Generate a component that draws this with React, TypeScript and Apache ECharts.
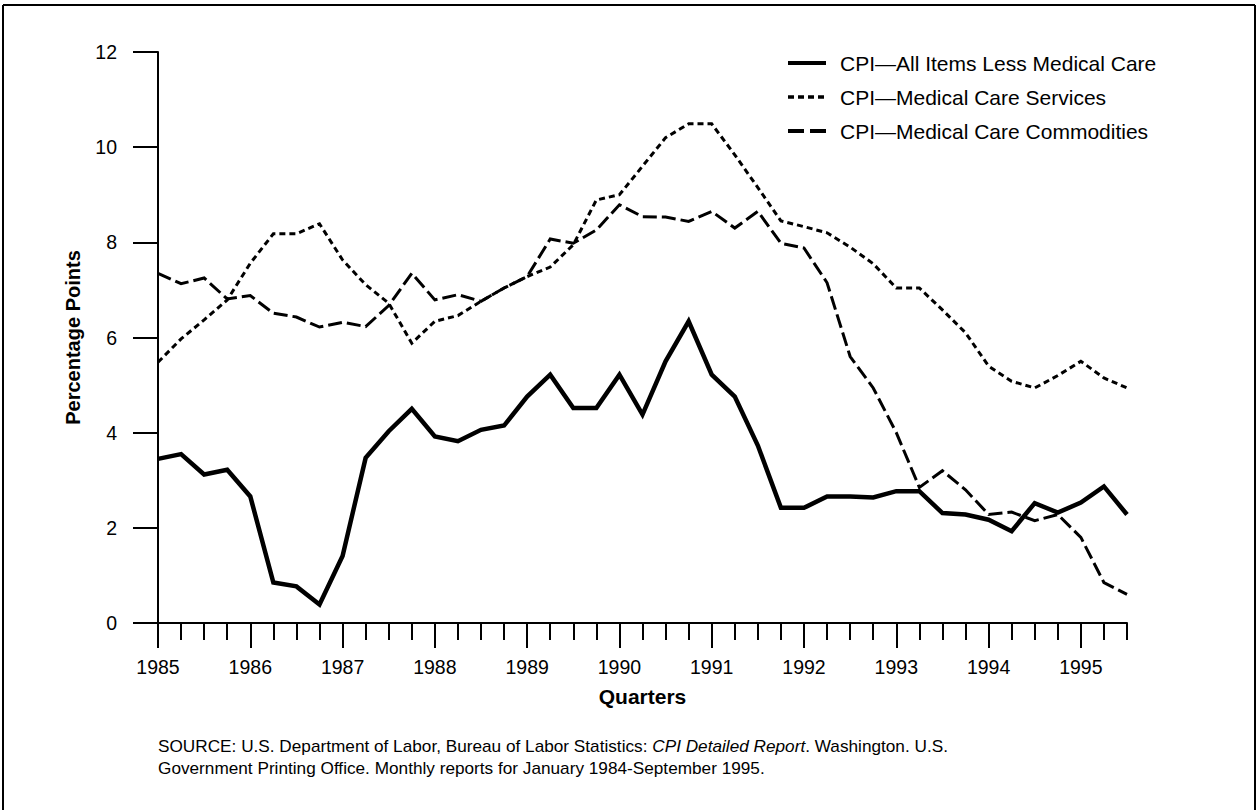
import React, { useEffect, useRef } from "react";
import * as echarts from "echarts";

const quarters = [
  "1985Q1", "1985Q2", "1985Q3", "1985Q4",
  "1986Q1", "1986Q2", "1986Q3", "1986Q4",
  "1987Q1", "1987Q2", "1987Q3", "1987Q4",
  "1988Q1", "1988Q2", "1988Q3", "1988Q4",
  "1989Q1", "1989Q2", "1989Q3", "1989Q4",
  "1990Q1", "1990Q2", "1990Q3", "1990Q4",
  "1991Q1", "1991Q2", "1991Q3", "1991Q4",
  "1992Q1", "1992Q2", "1992Q3", "1992Q4",
  "1993Q1", "1993Q2", "1993Q3", "1993Q4",
  "1994Q1", "1994Q2", "1994Q3", "1994Q4",
  "1995Q1", "1995Q2", "1995Q3",
];

const allItemsLessMedical = [
  3.45, 3.55, 3.12, 3.22, 2.66, 0.85, 0.77, 0.39, 1.41, 3.47,
  4.03, 4.5, 3.92, 3.82, 4.06, 4.15, 4.76, 5.22, 4.52, 4.52,
  5.22, 4.38, 5.5, 6.34, 5.22, 4.76, 3.73, 2.42, 2.42, 2.66,
  2.66, 2.64, 2.77, 2.77, 2.31, 2.28, 2.17, 1.93, 2.52, 2.32,
  2.53, 2.87, 2.28,
];

const medicalServices = [
  5.48, 5.97, 6.37, 6.79, 7.56, 8.18, 8.18, 8.39, 7.63, 7.11,
  6.72, 5.88, 6.34, 6.46, 6.76, 7.04, 7.28, 7.48, 7.95, 8.89,
  9.0, 9.6, 10.2, 10.49, 10.49, 9.84, 9.15, 8.45, 8.33, 8.2,
  7.9, 7.55, 7.04, 7.04, 6.58, 6.1, 5.4, 5.08, 4.94, 5.2,
  5.5, 5.15, 4.94,
];

const medicalCommodities = [
  7.35, 7.13, 7.25, 6.81, 6.88, 6.51, 6.43, 6.22, 6.32, 6.23,
  6.67, 7.35, 6.79, 6.9, 6.76, 7.04, 7.28, 8.07, 7.98, 8.26,
  8.79, 8.54, 8.53, 8.44, 8.65, 8.3, 8.65, 7.98, 7.88, 7.15,
  5.6, 4.94, 4.0, 2.85, 3.2, 2.8, 2.28, 2.33, 2.15, 2.28,
  1.8, 0.85, 0.6,
];

const seriesNames = [
  "CPI\u2014All Items Less Medical Care",
  "CPI\u2014Medical Care Services",
  "CPI\u2014Medical Care Commodities",
];

const FONT = '"Liberation Sans", Arial, Helvetica, sans-serif';

const lineStyles = [
  { width: 4.5, dash: null as number[] | null, legendWidth: 4 },
  { width: 3, dash: [6, 4], legendWidth: 3.5 },
  { width: 3, dash: [14, 5], legendWidth: 4 },
];

export default function App() {
  const ref = useRef<HTMLDivElement>(null);

  useEffect(() => {
    if (!ref.current) return;
    const chart = echarts.init(ref.current, undefined, { renderer: "svg" });
    const isYear = (i: number) => i % 4 === 0;
    const seriesData = [allItemsLessMedical, medicalServices, medicalCommodities];

    const legendGraphics: any[] = [];
    seriesNames.forEach((name, i) => {
      const y = 63 + i * 34;
      const ls = lineStyles[i];
      const dash = i === 1 ? [6, 4] : i === 2 ? [16, 6] : null;
      legendGraphics.push({
        type: "line",
        shape: { x1: 788, y1: y, x2: 826, y2: y },
        style: { stroke: "#000", lineWidth: ls.legendWidth, lineDash: dash },
      });
      legendGraphics.push({
        type: "text",
        x: 840,
        y: y,
        style: {
          text: name,
          fill: "#000",
          fontSize: 21,
          fontFamily: FONT,
          textVerticalAlign: "middle",
          verticalAlign: "middle",
        },
      });
    });

    chart.setOption({
      animation: false,
      backgroundColor: "#ffffff",
      textStyle: { fontFamily: FONT, color: "#000" },
      grid: { left: 158, right: 131, top: 52, bottom: 187, containLabel: false },
      xAxis: [
        {
          type: "category",
          data: quarters,
          boundaryGap: false,
          position: "bottom",
          axisLine: { show: true, lineStyle: { color: "#000", width: 2 } },
          axisTick: { show: true, interval: 0, length: 17, lineStyle: { color: "#000", width: 2 } },
          axisLabel: { show: false },
          splitLine: { show: false },
        },
        {
          type: "category",
          data: quarters,
          boundaryGap: false,
          position: "bottom",
          axisLine: { show: false },
          axisTick: {
            show: true,
            interval: (i: number) => isYear(i),
            length: 25,
            lineStyle: { color: "#000", width: 2 },
          },
          axisLabel: {
            show: true,
            interval: (i: number) => isYear(i),
            formatter: (v: string) => v.slice(0, 4),
            margin: 34,
            fontSize: 19.5,
            fontFamily: FONT,
            color: "#000",
          },
          name: "Quarters",
          nameLocation: "middle",
          nameGap: 63,
          nameTextStyle: { fontSize: 21, fontWeight: "bold", fontFamily: FONT, color: "#000" },
          splitLine: { show: false },
        },
      ],
      yAxis: {
        type: "value",
        min: 0,
        max: 12,
        interval: 2,
        axisLine: { show: true, lineStyle: { color: "#000", width: 2 } },
        axisTick: { show: true, length: 25, lineStyle: { color: "#000", width: 2 } },
        axisLabel: { margin: 41, fontSize: 19.5, fontFamily: FONT, color: "#000" },
        splitLine: { show: false },
        name: "Percentage Points",
        nameLocation: "middle",
        nameGap: 75,
        nameTextStyle: { fontSize: 20, fontWeight: "bold", fontFamily: FONT, color: "#000" },
      },
      series: seriesNames.map((name, i) => ({
        name,
        type: "line",
        xAxisIndex: 0,
        data: seriesData[i],
        symbol: "none",
        lineStyle: {
          color: "#000",
          width: lineStyles[i].width,
          type: lineStyles[i].dash ? lineStyles[i].dash : "solid",
          join: "miter",
        },
        itemStyle: { color: "#000" },
        z: i === 0 ? 3 : 2,
      })),
      graphic: [
        { type: "line", shape: { x1: 3, y1: 5, x2: 1255, y2: 5 }, style: { stroke: "#000", lineWidth: 2 } },
        { type: "line", shape: { x1: 3, y1: 5, x2: 3, y2: 810 }, style: { stroke: "#000", lineWidth: 2 } },
        { type: "line", shape: { x1: 1255, y1: 5, x2: 1255, y2: 810 }, style: { stroke: "#000", lineWidth: 2 } },
        ...legendGraphics,
        {
          type: "text",
          x: 158,
          y: 736,
          scaleX: 1.075,
          style: {
            text:
              "{n|SOURCE: U.S. Department of Labor, Bureau of Labor Statistics: }{i|CPI Detailed Report}{n|. Washington. U.S.}\n{n|Government Printing Office. Monthly reports for January 1984-September 1995.}",
            rich: {
              n: { fontSize: 16, fontFamily: FONT, fill: "#000", lineHeight: 22 },
              i: { fontSize: 16, fontFamily: FONT, fontStyle: "italic", fill: "#000", lineHeight: 22 },
            },
          },
        },
      ],
    });
    return () => chart.dispose();
  }, []);

  return (
    <div
      ref={ref}
      style={{ position: "absolute", left: 0, top: 0, width: 1258, height: 810, background: "#fff" }}
    />
  );
}
